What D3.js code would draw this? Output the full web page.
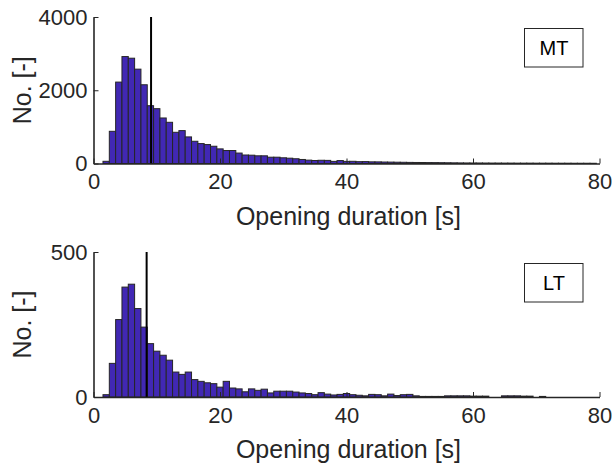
<!DOCTYPE html>
<html>
<head>
<meta charset="utf-8">
<script src="https://cdn.jsdelivr.net/npm/d3@7"></script>
<style>
  body { margin: 0; background: #fff; }
  svg { font-family: "Liberation Sans", Arial, sans-serif; }
  .axis path, .axis line { stroke: #262626; }
  .axis text { fill: #262626; font-size: 22px; }
  .label { fill: #262626; font-size: 25px; }
</style>
</head>
<body>
<svg width="613" height="466"></svg>
<script>
// bins are 1 s wide, first edge at 1.5 s
var binStart = 1.5;
var binWidth = 1;

var mtCounts = [60, 879, 2223, 2920, 2875, 2576, 2150, 1578, 1497, 1243,
    1125, 852, 898, 726, 607, 544, 517, 471, 399, 354,
    354, 285, 232, 227, 210, 210, 172, 172, 156, 145,
    130, 110, 92, 82, 88, 85, 58, 80, 58, 60,
    50, 52, 45, 44, 40, 38, 35, 33, 30, 28,
    27, 25, 24, 22, 20, 18, 16, 15, 14, 14,
    13, 12, 12, 11, 11, 10, 10, 10, 9, 9,
    9, 8, 8, 8, 7, 7, 7, 6];

var ltCounts = [8, 116, 267, 379, 389, 305, 241, 184, 158, 144,
    127, 86, 78, 86, 60, 54, 49, 46, 34, 54,
    31, 28, 18, 28, 23, 27, 14, 20, 20, 20,
    17, 14, 12, 8, 15, 10, 7, 9, 12, 8,
    6, 4, 9, 8, 4, 10, 5, 8, 9, 4,
    2, 2, 2, 2, 4, 4, 4, 4, 3, 3,
    3, 0, 0, 4, 4, 4, 3, 3, 0, 2,
    0, 0, 0, 0, 0, 0, 0, 0];

var xTicks = [0, 20, 40, 60, 80];
var mtTicks = [0, 2000, 4000];
var ltTicks = [0, 500];
var mtMarker = 9.1;
var ltMarker = 8.4;

var svg = d3.select('svg');

var x = d3.scaleLinear()
    .domain([0, 80])
    .range([93.5, 599.5]);

function panel(counts, yMax, yTicks, marker, name, top, bottom) {
    var g = svg.append('g');

    var y = d3.scaleLinear()
        .domain([0, yMax])
        .range([bottom, top]);

    g.selectAll('.bar')
        .data(counts)
        .enter()
        .append('rect')
        .attr('class', 'bar')
        .attr('x', function(d, i) { return x(binStart + i * binWidth); })
        .attr('width', x(binWidth) - x(0))
        .attr('y', function(d) { return y(d); })
        .attr('height', function(d) { return y(0) - y(d); })
        .attr('fill', '#4128b4')
        .attr('stroke', '#262626')
        .attr('stroke-width', 1);

    g.append('line')
        .attr('x1', x(marker))
        .attr('x2', x(marker))
        .attr('y1', y(0))
        .attr('y2', y(yMax))
        .attr('stroke', '#000')
        .attr('stroke-width', 2);

    g.append('g')
        .attr('class', 'axis')
        .attr('transform', 'translate(0,' + y(0) + ')')
        .call(d3.axisBottom(x).tickValues(xTicks).tickFormat(d3.format('d'))
            .tickSize(-5).tickSizeOuter(0).tickPadding(10))
        .call(function(a) { a.select('.domain').attr('stroke-width', 1.6); });

    g.append('g')
        .attr('class', 'axis')
        .attr('transform', 'translate(' + x(0) + ',0)')
        .call(d3.axisLeft(y).tickValues(yTicks).tickFormat(d3.format('d'))
            .tickSize(-5).tickSizeOuter(0).tickPadding(6))
        .call(function(a) { a.select('.domain').attr('stroke-width', 1.6); });

    g.append('text')
        .attr('class', 'label')
        .attr('x', (x(0) + x(80)) / 2 + 2)
        .attr('y', bottom + 61)
        .attr('text-anchor', 'middle')
        .text('Opening duration [s]');

    g.append('text')
        .attr('class', 'label')
        .attr('transform', 'translate(31,' + (top + bottom) / 2 + ') rotate(-90)')
        .attr('text-anchor', 'middle')
        .text('No. [-]');

    g.append('rect')
        .attr('x', 524.5)
        .attr('y', top + 11.5)
        .attr('width', 58.5)
        .attr('height', 38.5)
        .attr('fill', '#fff')
        .attr('stroke', '#262626')
        .attr('stroke-width', 1);

    g.append('text')
        .attr('x', 554)
        .attr('y', top + 38)
        .attr('text-anchor', 'middle')
        .attr('fill', '#000')
        .style('font-size', '20px')
        .text(name);
}

panel(mtCounts, 4000, mtTicks, mtMarker, 'MT', 17, 163.5);
panel(ltCounts, 500, ltTicks, ltMarker, 'LT', 252, 397);
</script>
</body>
</html>
